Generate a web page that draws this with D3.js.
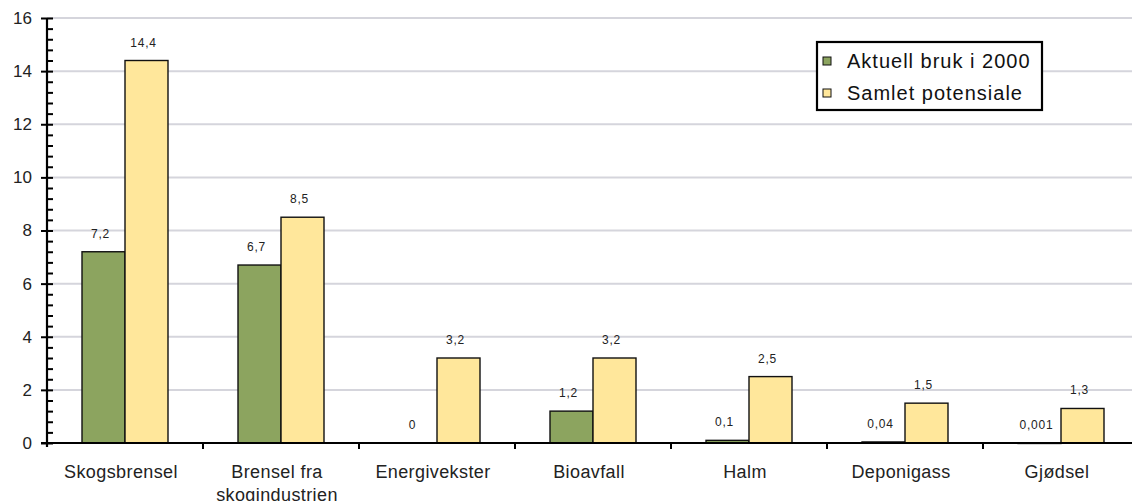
<!DOCTYPE html>
<html>
<head>
<meta charset="utf-8">
<script src="https://cdn.jsdelivr.net/npm/d3@7"></script>
<style>
  html, body { margin: 0; padding: 0; background: #fff; }
  svg { display: block; font-family: "Liberation Sans", Arial, Helvetica, sans-serif; }
</style>
</head>
<body>
<svg id="chart" width="1132" height="501"></svg>
<script>
// Bioenergi: dagens bruk og samlet potensiale (TWh/år)
const categories = ["Skogsbrensel", "Brensel fra\nskogindustrien", "Energivekster", "Bioavfall", "Halm", "Deponigass", "Gjødsel"];
const aktuell = [7.2, 6.7, 0, 1.2, 0.1, 0.04, 0.001];
const potensiale = [14.4, 8.5, 3.2, 3.2, 2.5, 1.5, 1.3];
const seriesNames = ["Aktuell bruk i 2000", "Samlet potensiale"];
const seriesColors = ["#8ca45f", "#ffe79b"];
const yTicks = [0, 2, 4, 6, 8, 10, 12, 14, 16];

const svg = d3.select("#chart");
const W = 1132, H = 501;
const plotL = 47, plotR = 1139, plotT = 18, plotB = 443;

const x = d3.scaleBand().domain(categories).range([plotL, plotR]).padding(0);
const y = d3.scaleLinear().domain([0, 16]).range([plotB, plotT]);
const barW = 43;

const fmt = v => String(v).replace(".", ",");

// gridlines
svg.append("g")
  .selectAll("line")
  .data(yTicks.filter(t => t > 0))
  .join("line")
  .attr("x1", plotL).attr("x2", W)
  .attr("y1", d => y(d)).attr("y2", d => y(d))
  .attr("stroke", "#d5d5dc").attr("stroke-width", 2);

// bars
const groups = svg.append("g").selectAll("g")
  .data(categories.map((c, i) => ({ c, vals: [aktuell[i], potensiale[i]] })))
  .join("g")
  .attr("transform", d => `translate(${x(d.c) + x.bandwidth() / 2},0)`);

groups.selectAll("rect")
  .data(d => d.vals.map((v, k) => ({ v, k })).filter(e => e.v > 0))
  .join("rect")
  .attr("x", d => d.k === 0 ? -barW : 0)
  .attr("width", barW)
  .attr("y", d => y(d.v))
  .attr("height", d => Math.max(plotB - y(d.v), 0.5))
  .attr("fill", d => seriesColors[d.k])
  .attr("stroke", "#111")
  .attr("stroke-width", 1.4);

// value labels
groups.selectAll("text")
  .data(d => d.vals.map((v, k) => ({ v, k })))
  .join("text")
  .attr("x", d => (d.k === 0 ? -barW / 2 : barW / 2) - 3)
  .attr("y", d => y(d.v) - 14)
  .attr("text-anchor", "middle")
  .attr("font-size", 12)
  .attr("letter-spacing", 0.8)
  .attr("fill", "#222")
  .text(d => fmt(d.v));

// y axis: major ticks to the left with labels, minor ticks to the right
const yAxis = svg.append("g")
  .attr("transform", `translate(${plotL},0)`)
  .call(d3.axisLeft(y).tickValues(yTicks).tickSize(6).tickPadding(9).tickFormat(d3.format("d")));
yAxis.select(".domain").remove();
yAxis.selectAll("line").attr("stroke", "#000").attr("stroke-width", 2);
yAxis.selectAll("text").attr("font-size", 17).attr("fill", "#222")
  .attr("font-family", "Liberation Sans, Arial, sans-serif");

const minor = d3.range(0, 16.001, 0.4);
const yMinor = svg.append("g")
  .attr("transform", `translate(${plotL},0)`)
  .call(d3.axisRight(y).tickValues(minor).tickSize(6).tickFormat(""));
yMinor.select(".domain").remove();
yMinor.selectAll("line").attr("stroke", "#000").attr("stroke-width", 2);

svg.append("line")
  .attr("x1", plotL).attr("x2", plotL)
  .attr("y1", plotT).attr("y2", plotB + 4)
  .attr("stroke", "#000").attr("stroke-width", 2.2);

// x axis
svg.append("line")
  .attr("x1", plotL - 6).attr("x2", W)
  .attr("y1", plotB).attr("y2", plotB)
  .attr("stroke", "#000").attr("stroke-width", 2.2);

svg.append("g").selectAll("line")
  .data(categories.slice(1))
  .join("line")
  .attr("x1", d => x(d)).attr("x2", d => x(d))
  .attr("y1", plotB).attr("y2", plotB + 6)
  .attr("stroke", "#000").attr("stroke-width", 2);

// category labels
const catText = svg.append("g").selectAll("text")
  .data(categories)
  .join("text")
  .attr("x", d => x(d) + x.bandwidth() / 2 - 4)
  .attr("y", 478)
  .attr("text-anchor", "middle")
  .attr("font-size", 18)
  .attr("letter-spacing", 0.4)
  .attr("fill", "#222");
catText.selectAll("tspan")
  .data(d => d.split("\n"))
  .join("tspan")
  .attr("x", function () { return d3.select(this.parentNode).attr("x"); })
  .attr("dy", (d, i) => i === 0 ? 0 : 23)
  .text(d => d);

// legend
const lg = svg.append("g");
lg.append("rect")
  .attr("x", 817).attr("y", 42).attr("width", 225).attr("height", 68)
  .attr("fill", "#fff").attr("stroke", "#000").attr("stroke-width", 2.2);
const items = lg.selectAll("g.item")
  .data(seriesNames)
  .join("g")
  .attr("class", "item")
  .attr("transform", (d, i) => `translate(823,${61 + i * 32})`);
items.append("rect")
  .attr("x", 0).attr("y", -4).attr("width", 8).attr("height", 8)
  .attr("fill", (d, i) => seriesColors[i])
  .attr("stroke", "#111").attr("stroke-width", 1);
items.append("text")
  .attr("x", 24).attr("y", 7)
  .attr("font-size", 20)
  .attr("letter-spacing", 1.0)
  .attr("fill", "#111")
  .text(d => d);
</script>
</body>
</html>
